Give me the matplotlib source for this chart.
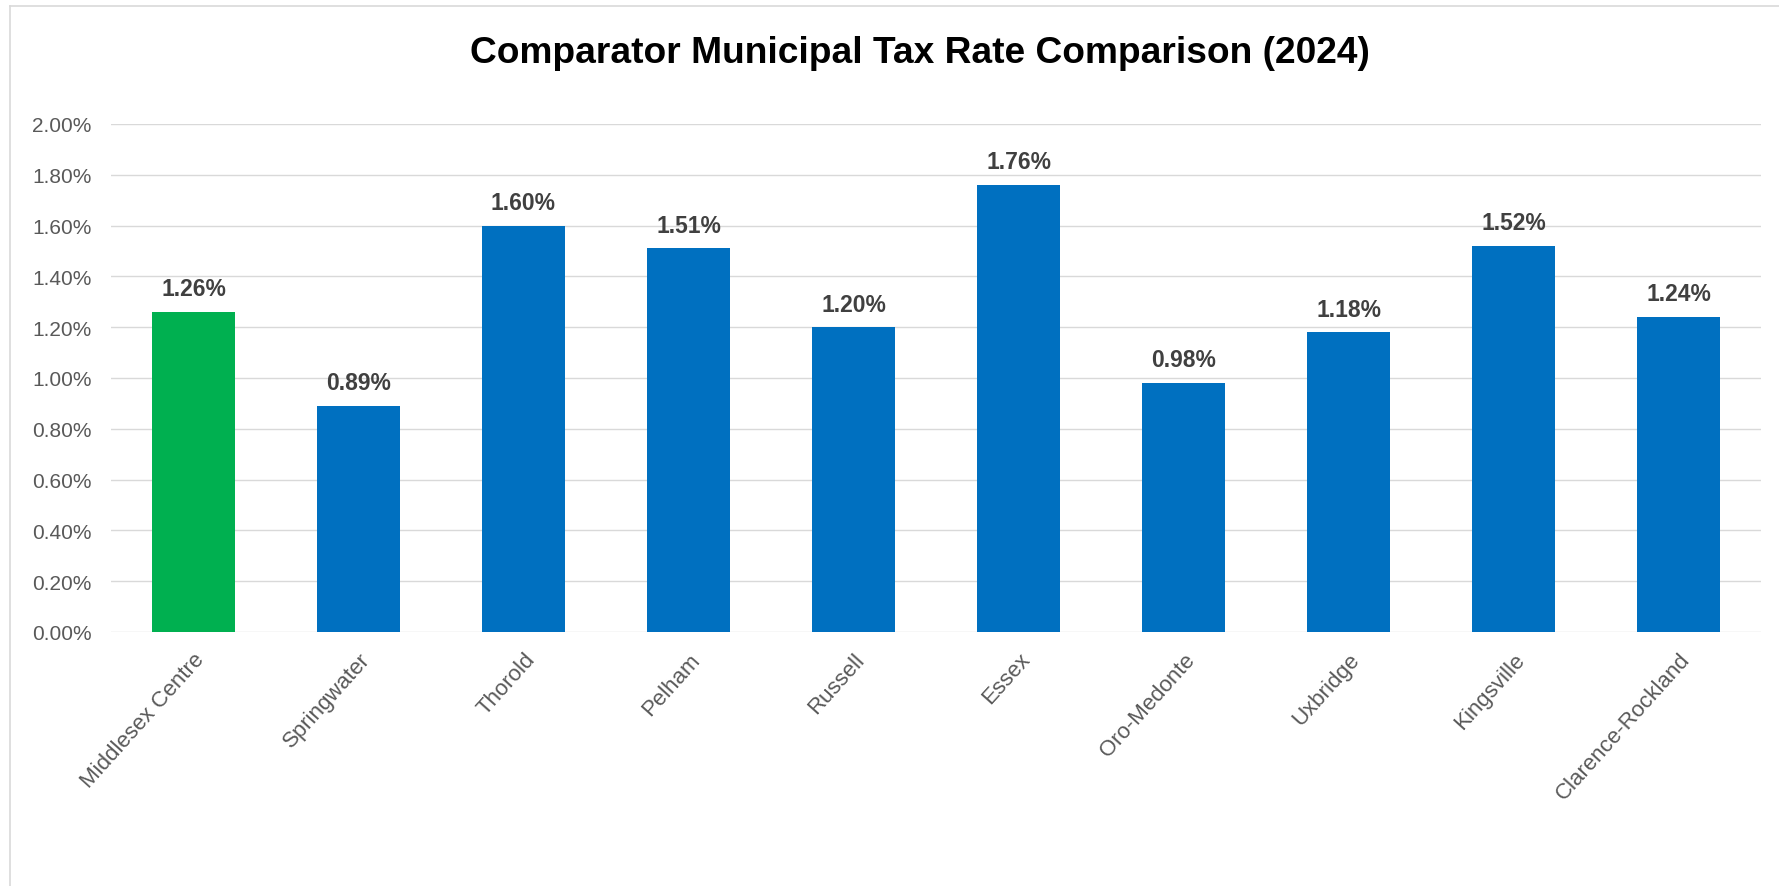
import matplotlib
matplotlib.use("Agg")
import matplotlib.pyplot as plt
from matplotlib.lines import Line2D
from matplotlib.ticker import FuncFormatter, MultipleLocator

categories = ["Middlesex Centre", "Springwater", "Thorold", "Pelham", "Russell",
              "Essex", "Oro-Medonte", "Uxbridge", "Kingsville", "Clarence-Rockland"]
values = [1.26, 0.89, 1.60, 1.51, 1.20, 1.76, 0.98, 1.18, 1.52, 1.24]
labels = ["1.26%", "0.89%", "1.60%", "1.51%", "1.20%", "1.76%", "0.98%", "1.18%", "1.52%", "1.24%"]
bar_colors = ["#00B050"] + ["#0070C0"] * 9
title = "Comparator Municipal Tax Rate Comparison (2024)"

plt.rcParams['font.family'] = ['Liberation Sans', 'DejaVu Sans']

W, H = 1779, 887
fig = plt.figure(figsize=(W/100, H/100), dpi=100)
ax = fig.add_axes([111/W, 1-633/H, (1761-111)/W, (633-125)/H])

x = list(range(len(categories)))
ax.bar(x, values, width=0.5, color=bar_colors, zorder=3)
ax.set_xlim(-0.5, len(categories)-0.5)
ax.set_ylim(0, 2.0)
ax.yaxis.set_major_locator(MultipleLocator(0.2))
ax.yaxis.set_major_formatter(FuncFormatter(lambda v, p: f"{v:.2f}%"))
ax.grid(axis='y', color='#D9D9D9', linewidth=1.0, zorder=0)
for s in ax.spines.values():
    s.set_visible(False)
ax.tick_params(axis='both', length=0, colors='#595959')
ax.tick_params(axis='y', pad=14, labelsize=15)
ax.set_xticks(x)
ax.set_xticklabels(categories, rotation=48, ha='right', va='top', rotation_mode='anchor',
                   fontsize=16, color='#595959')
ax.tick_params(axis='x', pad=12)

for xi, v, t in zip(x, values, labels):
    ax.annotate(t, (xi, v), xytext=(0, 12), textcoords='offset points',
                ha='center', va='baseline', fontsize=16.5, fontweight='bold', color='#404040')

fig.text(920/W, 1-63.3/H, title, ha='center', va='baseline', fontsize=26.7,
         fontweight='bold', color='black')

# chart frame (left and top edges visible)
fig.add_artist(Line2D([9.5/W, 9.5/W], [0, 1-7.3/H], transform=fig.transFigure,
                      color='#D9D9D9', linewidth=1.2))
fig.add_artist(Line2D([9.5/W, 1], [1-7.3/H, 1-7.3/H], transform=fig.transFigure,
                      color='#D9D9D9', linewidth=1.2))

fig.savefig("out.png", dpi=100)
